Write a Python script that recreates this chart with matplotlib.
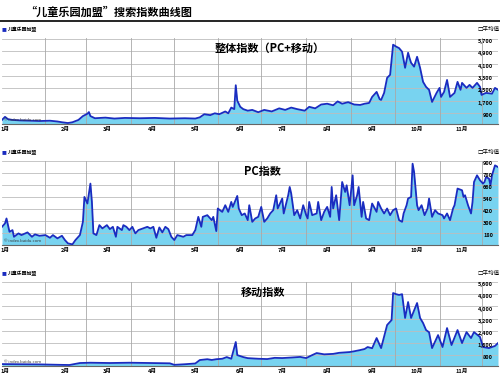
import matplotlib
matplotlib.use("Agg")
import matplotlib.pyplot as plt
from matplotlib.lines import Line2D

plt.rcParams['font.family'] = ['Noto Sans CJK SC', 'DejaVu Sans']

# x axis: day of year (0 = 1月1日)
month_labels = [f"{m}月" for m in range(1, 12)]
month_days = [2, 42, 70, 100, 129, 159, 187, 217, 247, 277, 307]
grid_days = [29, 56, 86, 115, 144, 173, 203, 233, 262, 292, 320]

total_days = [0, 2, 4, 7, 12, 19, 25, 32, 37, 40, 44, 47, 51, 54, 57, 58, 59, 62, 69, 75,
              82, 92, 102, 112, 122, 129, 132, 135, 139, 142, 145, 149, 151, 153, 155, 156, 157, 159, 161, 164,
              167, 171, 175, 180, 185, 189, 193, 197, 202, 205, 209, 213, 217, 221, 224, 227, 231, 235, 239, 242,
              245, 247, 250, 252, 253, 255, 257, 259, 261, 263, 265, 267, 269, 271, 272, 273, 275, 277, 279, 281,
              283, 285, 287, 290, 292, 293, 295, 297, 299, 302, 304, 306, 307, 310, 312, 314, 317, 319, 320, 323,
              327, 329, 331]
total_vals = [450, 650, 500, 450, 420, 400, 380, 400, 350, 300, 250, 300, 450, 700, 850, 960, 700, 560, 600, 540,
              580, 560, 580, 540, 560, 540, 620, 820, 760, 880, 820, 1000, 880, 1250, 1150, 2700, 1700, 1300, 1150, 1050,
              1100, 950, 1100, 1000, 1200, 1100, 1250, 1150, 1050, 1300, 1200, 1450, 1500, 1400, 1650, 1500, 1600, 1450, 1420, 1500,
              1550, 1940, 2265, 1800, 1745, 2200, 3175, 3370, 5320, 5200, 5100, 4865, 3825, 4800, 4450, 4150, 3900, 4540, 3825, 2915,
              2590, 2400, 1615, 2200, 2525, 1940, 2265, 3040, 1940, 2200, 2915, 2400, 2850, 2525, 2720, 2525, 2850, 2590, 2070, 2200,
              2150, 2525, 2400]

pc_days = [0, 2, 3, 5, 7, 8, 11, 13, 17, 20, 22, 25, 29, 32, 34, 37, 40, 42, 44, 47,
           49, 52, 54, 55, 57, 59, 60, 61, 63, 65, 67, 70, 72, 74, 76, 77, 80, 81, 83, 85,
           87, 89, 91, 94, 97, 99, 101, 103, 105, 107, 109, 111, 113, 115, 117, 121, 123, 127, 129, 131,
           133, 134, 137, 140, 141, 143, 144, 147, 149, 151, 153, 154, 157, 158, 160, 162, 164, 165, 167, 169,
           171, 173, 175, 177, 179, 181, 183, 184, 187, 188, 191, 192, 193, 195, 197, 199, 201, 203, 204, 205,
           207, 210, 211, 213, 215, 217, 219, 220, 221, 223, 225, 227, 229, 230, 232, 234, 235, 237, 238, 240,
           241, 243, 245, 247, 250, 251, 253, 255, 257, 259, 261, 263, 265, 267, 268, 270, 271, 273, 274, 275,
           277, 278, 280, 282, 284, 285, 287, 289, 291, 294, 295, 297, 299, 301, 302, 304, 307, 308, 309, 311,
           313, 314, 315, 317, 319, 321, 322, 323, 325, 326, 327, 328, 329, 331]
pc_vals = [244, 278, 328, 194, 211, 144, 178, 161, 188, 144, 168, 154, 161, 134, 161, 128, 154, 111, 78, 68,
           111, 161, 294, 544, 478, 678, 494, 178, 161, 261, 228, 261, 221, 244, 144, 244, 211, 261, 244, 211,
           244, 178, 211, 228, 244, 228, 244, 134, 238, 188, 244, 221, 144, 111, 161, 144, 161, 161, 211, 344,
           244, 344, 361, 311, 344, 201, 428, 394, 461, 394, 494, 444, 554, 428, 361, 378, 311, 461, 294, 328,
           344, 444, 294, 328, 378, 411, 561, 428, 528, 378, 561, 644, 578, 361, 411, 328, 461, 361, 328, 494,
           361, 378, 494, 311, 394, 444, 344, 644, 428, 561, 311, 694, 594, 661, 461, 761, 461, 561, 644, 344,
           494, 328, 311, 478, 394, 494, 428, 378, 428, 361, 411, 428, 311, 294, 378, 461, 528, 544, 878, 794,
           461, 411, 461, 361, 428, 528, 344, 411, 378, 361, 328, 378, 311, 428, 461, 628, 611, 544, 561, 461,
           378, 494, 694, 761, 711, 678, 694, 744, 728, 661, 761, 811, 861, 844]

mob_days = [0, 12, 25, 39, 45, 52, 59, 72, 85, 99, 112, 115, 122, 129, 132, 137, 140, 143, 147, 150,
            153, 156, 157, 161, 164, 171, 177, 182, 187, 193, 199, 203, 207, 210, 215, 221, 225, 232, 235, 239,
            242, 244, 247, 250, 253, 257, 260, 261, 263, 265, 267, 269, 271, 273, 277, 279, 281, 283, 285, 287,
            291, 294, 297, 300, 304, 307, 310, 313, 315, 319, 321, 325, 329, 331]
mob_vals = [210, 200, 190, 160, 150, 280, 300, 280, 300, 280, 260, 160, 200, 250, 475, 530, 480, 530, 560, 670,
            560, 1660, 800, 670, 600, 560, 540, 620, 605, 640, 680, 605, 800, 935, 850, 880, 950, 1000, 1050, 1130,
            1200, 1330, 1250, 1920, 1260, 2775, 3100, 4875, 4800, 4750, 4800, 3240, 4285, 3240, 4220, 3240, 2905, 2445, 2300, 1260,
            2115, 1330, 2575, 1460, 2445, 1590, 2310, 1920, 2310, 1990, 1330, 1260, 1400, 1590]

total_ticks = [900, 1700, 2500, 3300, 4100, 4900, 5700]
pc_ticks = [180, 300, 420, 540, 660, 780, 900]
mob_ticks = [800, 1600, 2400, 3200, 4000, 4800, 5600]

FILL = "#78d3f0"
LINE = "#1a2cc0"

panels = [
    ("整体指数（PC+移动）", total_days, total_vals, total_ticks, (185, 5750), [0.004, 0.671, 0.992, 0.228], 0.54),
    ("PC指数", pc_days, pc_vals, pc_ticks, (61, 905), [0.004, 0.350, 0.992, 0.223], 0.525),
    ("移动指数", mob_days, mob_vals, mob_ticks, (80, 5600), [0.004, 0.029, 0.992, 0.223], 0.527),
]

fig = plt.figure(figsize=(5, 3.77), dpi=100)

fig.text(0.05, 0.968, "“儿童乐园加盟”搜索指数曲线图", fontsize=8, fontweight="bold", va="center")
fig.add_artist(Line2D([0, 1], [1 - 21 / 377] * 2, color="black", lw=1.2))

for title, days, vals, ticks, ylim, rect, tx in panels:
    ax = fig.add_axes(rect)
    ax.set_xlim(0, 331)
    ax.set_ylim(*ylim)
    ax.fill_between(days, vals, ylim[0], color=FILL, lw=0, zorder=1)
    for t in ticks:
        ax.axhline(t, color="#bdbdbd", lw=0.6, zorder=2)
    for d in grid_days:
        ax.axvline(d, color="#a8a8a8", lw=0.6, zorder=2)
    ax.plot(days, vals, color=LINE, lw=1.3, zorder=3)
    for t in ticks:
        ax.text(0.99, t, f"{t:,}", transform=ax.get_yaxis_transform(), ha="right", va="top",
                fontsize=4, fontweight="bold", zorder=4)
    ax.text(tx, 0.88, title, transform=ax.transAxes, ha="center", va="center",
            fontsize=8, fontweight="bold", zorder=4)
    ax.text(0.005, 0.04, "© index.baidu.com", transform=ax.transAxes, fontsize=3,
            color="#333333", zorder=4)
    ax.set_xticks(month_days, month_labels)
    ax.tick_params(axis="x", length=0, pad=2, labelsize=4)
    for lbl in ax.get_xticklabels():
        lbl.set_fontweight("bold")
    ax.set_yticks([])
    for s in ["left", "right", "top"]:
        ax.spines[s].set_visible(False)
    ax.spines["bottom"].set_color("#666666")
    ax.spines["bottom"].set_linewidth(0.8)

    top_y = rect[1] + rect[3]
    fig.text(0.004, top_y + 0.022, "■", color=LINE, fontsize=3.5, va="center")
    fig.text(0.016, top_y + 0.022, "儿童乐园加盟", fontsize=3.5, fontweight="bold", va="center")
    fig.text(0.998, top_y + 0.022, "□平均值", fontsize=4, ha="right", va="center")

fig.savefig("out.png", dpi=100)
